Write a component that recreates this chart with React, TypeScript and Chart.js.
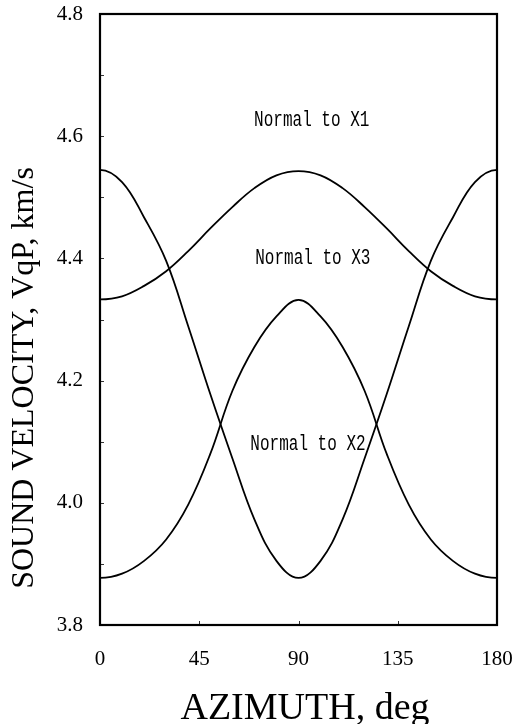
import React, { useEffect, useRef } from "react";
import { Chart, registerables } from "chart.js";

Chart.register(...registerables);

// Azimuth (deg); the curves are periodic, so one step beyond each end keeps the end tangents flat
const azimuthDeg = [-10, 0, 10, 20, 30, 40, 50, 60, 70, 80, 90, 100, 110, 120, 130, 140, 150, 160, 170, 180, 190];

// Sound velocity VqP (km/s) for the three curves
const velocityUpper = [4.338, 4.333, 4.338, 4.355, 4.379, 4.412, 4.449, 4.484, 4.515, 4.536, 4.543, 4.536, 4.515, 4.484, 4.449, 4.412, 4.379, 4.355, 4.338, 4.333, 4.338];
const velocityValley = [4.525, 4.545, 4.525, 4.467, 4.396, 4.289, 4.178, 4.073, 3.973, 3.905, 3.877, 3.905, 3.973, 4.073, 4.178, 4.289, 4.396, 4.467, 4.525, 4.545, 4.525];
const velocityHill = [3.884, 3.877, 3.884, 3.905, 3.940, 3.997, 4.080, 4.183, 4.255, 4.305, 4.332, 4.305, 4.255, 4.183, 4.080, 3.997, 3.940, 3.905, 3.884, 3.877, 3.884];

// Axis ticks
const xTickValues = [0, 45, 90, 135, 180];
const yTickValues = [3.8, 4.0, 4.2, 4.4, 4.6, 4.8];

// Curve annotations (text, azimuth, velocity)
const annotationTexts = ["Normal to X1", "Normal to X3", "Normal to X2"];
const annotationAz = [96, 96.5, 94.3];
const annotationVel = [4.627, 4.40, 4.096];

const xTitle = "AZIMUTH, deg";
const yTitle = "SOUND VELOCITY, VqP, km/s";

export default function App() {
  const ref = useRef<HTMLCanvasElement>(null);

  useEffect(() => {
    document.body.style.margin = "0";
    const canvas = ref.current;
    if (!canvas) return;
    const pts = (ys: number[]) => azimuthDeg.map((x, i) => ({ x, y: ys[i] }));
    const lineStyle = {
      borderColor: "#000",
      borderWidth: 1.8,
      pointRadius: 0,
      fill: false,
      tension: 0.4,
    };

    const overlay = {
      id: "overlay",
      afterDraw(chart: any) {
        const ctx = chart.ctx;
        const a = chart.chartArea;
        const xs = chart.scales.x;
        const ys = chart.scales.y;
        ctx.save();
        // inward ticks
        ctx.strokeStyle = "#333";
        ctx.lineWidth = 1;
        for (let v = 3.9; v < 4.8; v += 0.1) {
          const py = Math.round(ys.getPixelForValue(v)) + 0.5;
          ctx.beginPath();
          ctx.moveTo(a.left, py);
          ctx.lineTo(a.left + 4, py);
          ctx.stroke();
        }
        for (const v of xTickValues) {
          const px = Math.round(xs.getPixelForValue(v)) + 0.5;
          ctx.beginPath();
          ctx.moveTo(px, a.bottom);
          ctx.lineTo(px, a.bottom - 4);
          ctx.stroke();
        }
        // frame
        ctx.strokeStyle = "#000";
        ctx.lineWidth = 2.2;
        ctx.strokeRect(a.left, a.top, a.right - a.left, a.bottom - a.top);
        // annotations
        ctx.fillStyle = "#000";
        ctx.font = "16px 'Liberation Mono'";
        ctx.textAlign = "center";
        ctx.textBaseline = "middle";
        annotationTexts.forEach((t, i) => {
          const px = xs.getPixelForValue(annotationAz[i]);
          const py = ys.getPixelForValue(annotationVel[i]);
          ctx.save();
          ctx.translate(px, py);
          ctx.scale(1, 1.4);
          ctx.fillText(t, 0, 0);
          ctx.restore();
        });
        // axis titles
        ctx.font = "38px 'Liberation Serif'";
        ctx.textAlign = "center";
        ctx.textBaseline = "alphabetic";
        ctx.fillText(xTitle, 305, 719);
        ctx.save();
        ctx.translate(33, 378);
        ctx.rotate(-Math.PI / 2);
        ctx.font = "32px 'Liberation Serif'";
        ctx.fillText(yTitle, 0, 0);
        ctx.restore();
        ctx.restore();
      },
    };

    const tickFont = { family: "'Liberation Serif'", size: 21 };

    const chart = new Chart(canvas, {
      type: "line",
      data: {
        datasets: [
          { data: pts(velocityUpper), ...lineStyle },
          { data: pts(velocityValley), ...lineStyle },
          { data: pts(velocityHill), ...lineStyle },
        ],
      },
      options: {
        animation: false,
        responsive: false,
        layout: { padding: { top: 14, right: 18, left: 0, bottom: 0 } },
        plugins: { legend: { display: false }, tooltip: { enabled: false } },
        scales: {
          x: {
            type: "linear",
            min: 0,
            max: 180,
            afterBuildTicks: (s: any) => {
              s.ticks = xTickValues.map((v) => ({ value: v }));
            },
            afterFit: (s: any) => {
              s.height = 99;
              s.paddingLeft = 0;
              s.paddingRight = 0;
            },
            grid: { display: false, drawTicks: false },
            border: { display: false },
            ticks: { padding: 22, font: tickFont, color: "#000", maxRotation: 0 },
          },
          y: {
            type: "linear",
            min: 3.8,
            max: 4.8,
            afterBuildTicks: (s: any) => {
              s.ticks = yTickValues.map((v) => ({ value: v }));
            },
            afterFit: (s: any) => {
              s.width = 100;
              s.paddingTop = 0;
              s.paddingBottom = 0;
            },
            grid: { display: false, drawTicks: false },
            border: { display: false },
            ticks: {
              padding: 17,
              font: tickFont,
              color: "#000",
              callback: (v: any) => Number(v).toFixed(1),
            },
          },
        },
      },
      plugins: [overlay],
    });
    return () => chart.destroy();
  }, []);

  return <canvas ref={ref} width={515} height={724} style={{ display: "block" }} />;
}
